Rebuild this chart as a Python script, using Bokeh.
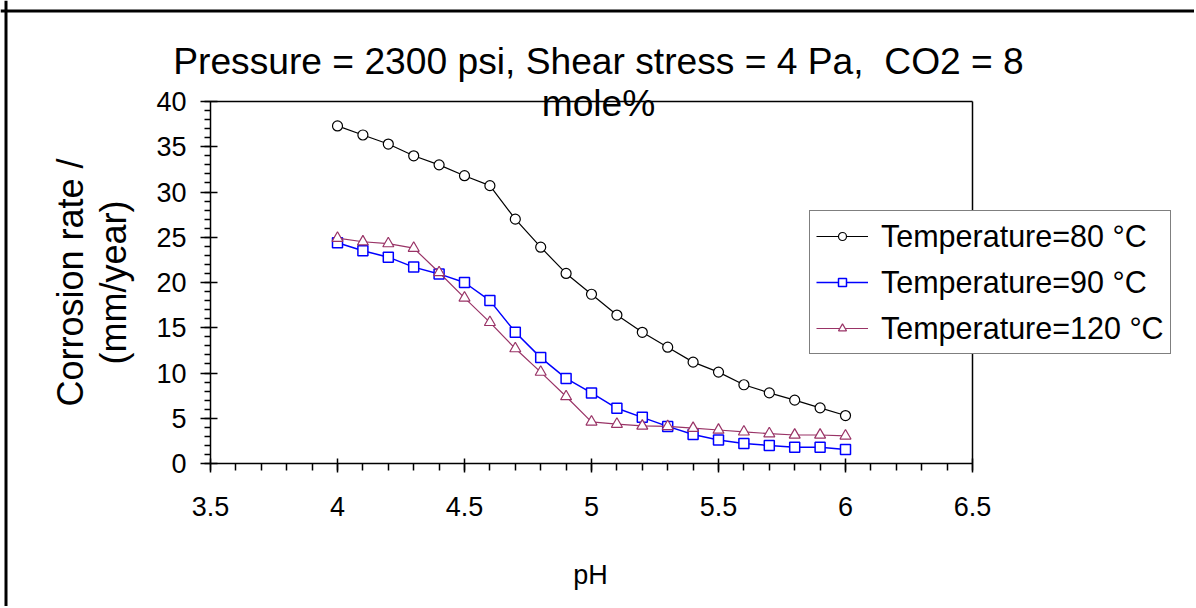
import numpy as np
from bokeh.plotting import figure
from bokeh.models import (FixedTicker, Label, Legend, LegendItem, Range1d,
                          LinearAxis, Span)
from bokeh.embed import file_html
from bokeh.resources import INLINE

# ---- data ----
ph = [4.0, 4.1, 4.2, 4.3, 4.4, 4.5, 4.6, 4.7, 4.8, 4.9, 5.0,
      5.1, 5.2, 5.3, 5.4, 5.5, 5.6, 5.7, 5.8, 5.9, 6.0]
rate_80 = [37.3, 36.3, 35.3, 34.0, 33.0, 31.8, 30.7, 27.0, 23.9, 21.0, 18.7,
           16.4, 14.5, 12.85, 11.2, 10.1, 8.7, 7.8, 7.0, 6.15, 5.3]
rate_90 = [24.4, 23.5, 22.8, 21.7, 20.95, 20.0, 18.0, 14.5, 11.7, 9.4, 7.8,
           6.1, 5.1, 4.1, 3.2, 2.6, 2.2, 2.0, 1.8, 1.8, 1.55]
rate_120 = [24.9, 24.5, 24.3, 23.8, 21.1, 18.3, 15.6, 12.7, 10.1, 7.4, 4.6,
            4.35, 4.15, 4.1, 3.9, 3.7, 3.5, 3.3, 3.15, 3.15, 3.05]
series_names = ["Temperature=80 °C", "Temperature=90 °C", "Temperature=120 °C"]
x_ticks = [3.5, 4.0, 4.5, 5.0, 5.5, 6.0, 6.5]
x_tick_labels = ["3.5", "4", "4.5", "5", "5.5", "6", "6.5"]
y_ticks = [0, 5, 10, 15, 20, 25, 30, 35, 40]
title_lines = ["Pressure = 2300 psi, Shear stress = 4 Pa,  CO2 = 8", "mole%"]
y_label_lines = ["Corrosion rate /", "(mm/year)"]
x_label = "pH"

FONT = "Liberation Sans"

# ---- layout (pixels) ----
W, H = 1194, 606
X0, X1 = 3.5, 6.5          # plot-area data bounds
Y0, Y1 = 0.0, 40.0
PX_LEFT, PX_RIGHT = 210, 972   # plot-area edges on the page
PX_TOP, PX_BOTTOM = 101, 463

xs = (PX_RIGHT - PX_LEFT) / (X1 - X0)
ys = (PX_BOTTOM - PX_TOP) / (Y1 - Y0)
x_start = X0 - PX_LEFT / xs
y_end = Y1 + PX_TOP / ys

def sy(py):  # page y -> frame screen y (from bottom)
    return H - py

p = figure(frame_width=W, frame_height=H,
           min_border=0, min_border_left=0, min_border_right=0,
           min_border_top=0, min_border_bottom=0,
           x_range=Range1d(x_start, x_start + W / xs),
           y_range=Range1d(y_end - H / ys, y_end),
           x_axis_location=None, y_axis_location=None,
           output_backend="svg", toolbar_location=None)
p.grid.visible = False
p.outline_line_color = None
p.background_fill_color = "white"
p.border_fill_color = "white"

def style_axis(ax):
    ax.axis_line_color = "black"
    ax.axis_line_width = 1.5
    ax.major_tick_line_color = "black"
    ax.major_tick_line_width = 1.5
    ax.minor_tick_line_color = "black"
    ax.minor_tick_line_width = 1.5
    ax.major_label_text_font = FONT
    ax.major_label_text_font_size = "27px"
    ax.major_label_text_color = "black"

xaxis = LinearAxis(fixed_location=Y0, bounds=(X0, X1),
                   ticker=FixedTicker(ticks=x_ticks,
                                      minor_ticks=list(np.round(np.arange(3.5, 6.51, 0.1), 2))))
xaxis.major_label_overrides = {t: s for t, s in zip(x_ticks, x_tick_labels)}
style_axis(xaxis)
xaxis.major_tick_in = 5
xaxis.major_tick_out = 9
xaxis.minor_tick_in = 0
xaxis.minor_tick_out = 7
xaxis.major_label_standoff = 24
p.add_layout(xaxis, "below")

yaxis = LinearAxis(fixed_location=X0, bounds=(Y0, Y1),
                   ticker=FixedTicker(ticks=y_ticks, minor_ticks=list(range(0, 41))))
style_axis(yaxis)
yaxis.major_tick_in = 7
yaxis.major_tick_out = 10
yaxis.minor_tick_in = 0
yaxis.minor_tick_out = 6
yaxis.major_label_standoff = 14
p.add_layout(yaxis, "left")

# plot-area top and right border lines
top_ax = LinearAxis(fixed_location=Y1, bounds=(X0, X1), ticker=FixedTicker(ticks=[]))
right_ax = LinearAxis(fixed_location=X1, bounds=(Y0, Y1), ticker=FixedTicker(ticks=[]))
for ax in (top_ax, right_ax):
    ax.axis_line_color = "black"
    ax.axis_line_width = 1.5
    ax.major_tick_in = 0
    ax.major_tick_out = 0
    ax.minor_tick_in = 0
    ax.minor_tick_out = 0
p.add_layout(top_ax, "above")
p.add_layout(right_ax, "right")

# outer chart border (left and top edges visible)
p.add_layout(Span(location=5.5, location_units="screen", dimension="height",
                  line_color="black", line_width=3))
p.add_layout(Span(location=sy(10.5), location_units="screen", dimension="width",
                  line_color="black", line_width=3))

# series
styles = [dict(marker="circle", color="black", lw=1.2, size=10),
          dict(marker="square", color="#0000FF", lw=1.5, size=10),
          dict(marker="triangle", color="#993366", lw=1.2, size=11)]
items = []
for name, vals, st in zip(series_names, [rate_80, rate_90, rate_120], styles):
    rl = p.line(ph, vals, line_color=st["color"], line_width=st["lw"])
    rm = p.scatter(ph, vals, marker=st["marker"], size=st["size"], fill_color="white",
                   line_color=st["color"], line_width=st["lw"])
    items.append(LegendItem(label=name, renderers=[rl, rm]))

legend = Legend(items=items,
                location=(809, sy(354)), orientation="vertical",
                label_text_font=FONT, label_text_font_size="30.5px",
                label_text_color="black",
                glyph_width=52, glyph_height=20, label_height=38, label_width=283,
                label_standoff=13, spacing=8, padding=6, margin=0,
                border_line_color="black", border_line_width=1.5,
                background_fill_color="white", background_fill_alpha=1.0)
p.add_layout(legend)

# title (two lines)
p.add_layout(Label(x=598, y=sy(60), x_units="screen", y_units="screen",
                   text=title_lines[0].replace("  ", " \u00a0"),
                   text_align="center", text_baseline="alphabetic",
                   text_font=FONT, text_font_size="37.2px", text_color="black"))
p.add_layout(Label(x=598, y=sy(102), x_units="screen", y_units="screen", text=title_lines[1],
                   text_align="center", text_baseline="alphabetic",
                   text_font=FONT, text_font_size="37.2px", text_color="black"))
# y label (two lines, rotated)
p.add_layout(Label(x=70, y=sy(282), x_units="screen", y_units="screen", text=y_label_lines[0],
                   angle=np.pi / 2, text_align="center", text_baseline="middle",
                   text_font=FONT, text_font_size="36px", text_color="black"))
p.add_layout(Label(x=113, y=sy(282), x_units="screen", y_units="screen", text=y_label_lines[1],
                   angle=np.pi / 2, text_align="center", text_baseline="middle",
                   text_font=FONT, text_font_size="36px", text_color="black"))
# x label
p.add_layout(Label(x=590, y=sy(574), x_units="screen", y_units="screen", text=x_label,
                   text_align="center", text_baseline="alphabetic",
                   text_font=FONT, text_font_size="27px", text_color="black"))

open("out.html", "w").write(file_html(p, INLINE))
